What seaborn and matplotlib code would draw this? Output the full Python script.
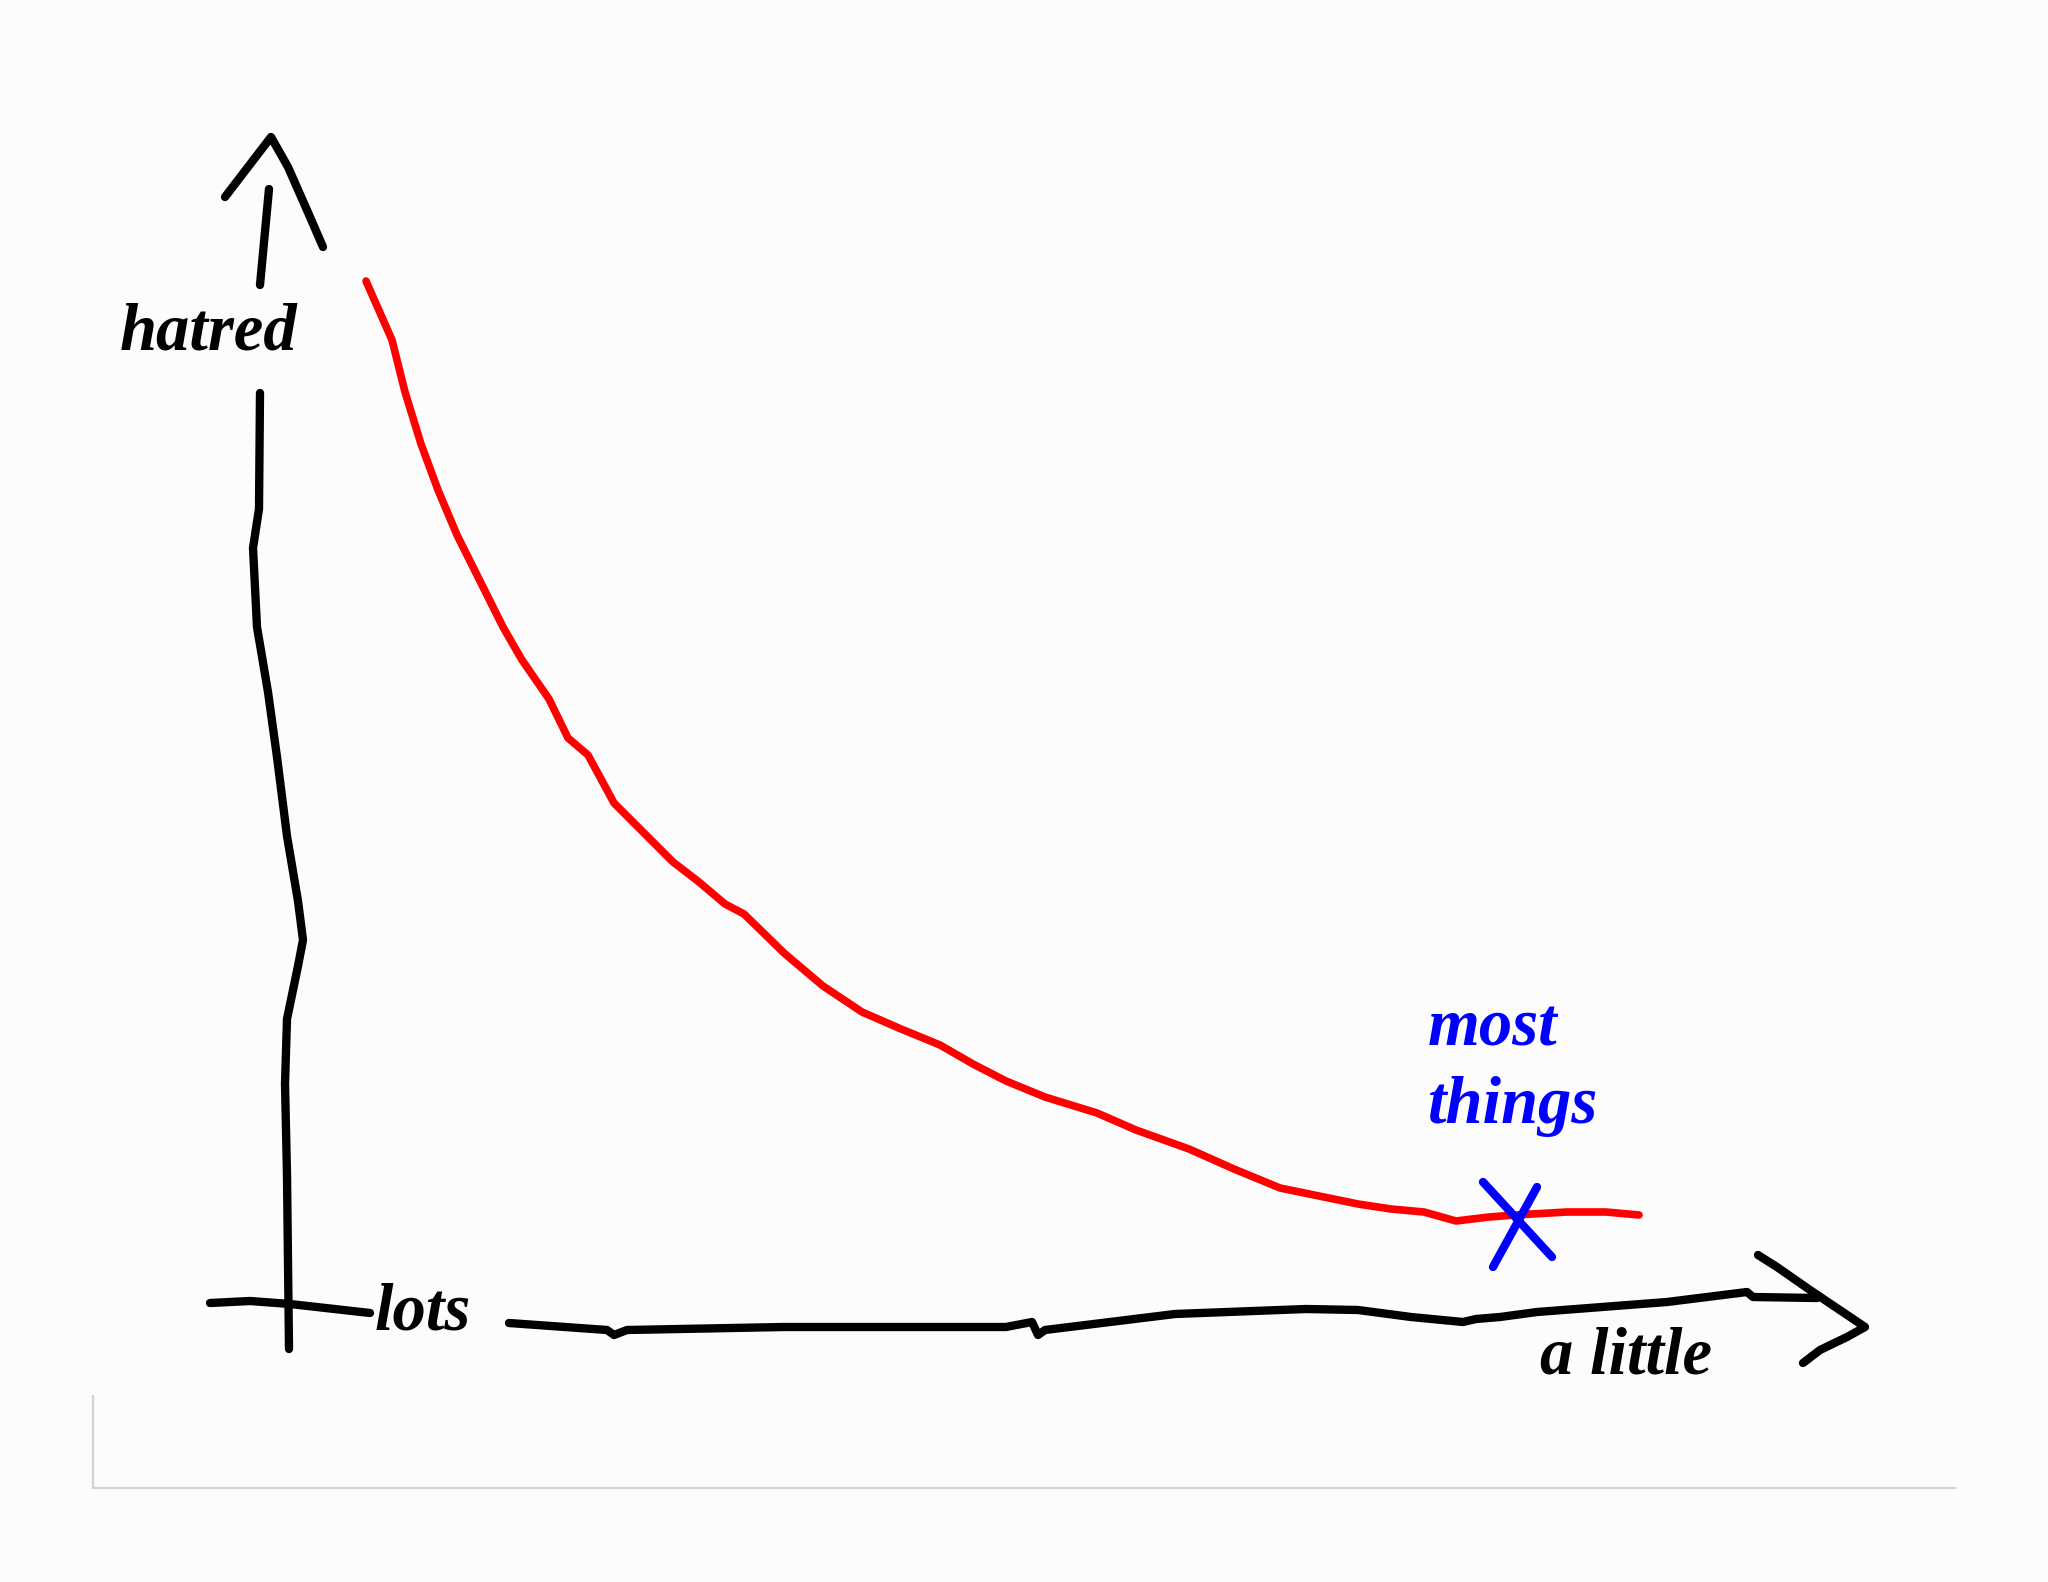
import matplotlib
matplotlib.use("Agg")
import matplotlib.pyplot as plt
import seaborn as sns
import pandas as pd

# ---- data (hand-drawn strokes, in picture pixel space) ----
curve_x = [366, 392, 405, 421, 438, 457, 477, 503, 522, 549, 568, 588, 614, 640, 673, 699, 725, 744,
           784, 823, 862, 901, 940, 973, 1006, 1045, 1097, 1136, 1189, 1234, 1280, 1319, 1358, 1391,
           1424, 1456, 1489, 1515, 1567, 1606, 1639]
curve_y = [281, 340, 392, 444, 490, 535, 575, 627, 660, 699, 738, 755, 803, 829, 862, 882, 904, 914,
           953, 986, 1012, 1029, 1045, 1064, 1081, 1097, 1113, 1130, 1149, 1169, 1188, 1196, 1204, 1209,
           1212, 1221, 1217, 1215, 1212, 1212, 1215]

yaxis_top_x = [269, 260]
yaxis_top_y = [189, 285]
yaxis_head_x = [225, 271, 288, 310, 323]
yaxis_head_y = [197, 137, 167, 217, 247]
yaxis_low_x = [260, 259, 253, 257, 268, 277, 287, 298, 303, 298, 287, 285, 287, 289]
yaxis_low_y = [393, 509, 548, 627, 692, 757, 836, 901, 940, 966, 1019, 1084, 1175, 1349]

xaxis_left_x = [210, 250, 290, 370]
xaxis_left_y = [1303, 1301, 1304, 1313]
xaxis_right_x = [509, 607, 614, 627, 784, 1006, 1032, 1038, 1045, 1175, 1306, 1358, 1411, 1463, 1476,
                 1500, 1537, 1667, 1747, 1753, 1817]
xaxis_right_y = [1323, 1330, 1335, 1330, 1327, 1327, 1322, 1335, 1330, 1314, 1309, 1310, 1317, 1322, 1319,
                 1317, 1312, 1302, 1292, 1297, 1298]
xaxis_head_x = [1758, 1777, 1810, 1865, 1847, 1820, 1803]
xaxis_head_y = [1255, 1267, 1290, 1327, 1337, 1350, 1363]

mark1_x = [1483, 1552]
mark1_y = [1182, 1257]
mark2_x = [1537, 1493]
mark2_y = [1187, 1267]

labels = ["hatred", "lots", "a little", "most", "things"]

sns.set_theme(style="white")
plt.rcParams["font.family"] = ["Liberation Serif", "DejaVu Serif"]

fig = plt.figure(figsize=(20.48, 15.82), dpi=100, facecolor="#fdfcfd")
ax = fig.add_axes([0, 0, 1, 1])
ax.set_facecolor("#fdfcfd")
ax.set_xlim(0, 2048)
ax.set_ylim(1582, 0)
ax.axis("off")

def stroke(xs, ys, color, lw):
    sns.lineplot(x=xs, y=ys, sort=False, estimator=None, color=color, linewidth=lw, ax=ax,
                 solid_capstyle="round", solid_joinstyle="round")

# frame of the embedded picture
stroke([93, 93, 1955], [1396, 1488, 1488], "#d2d2d2", 1.6)

for xs, ys in [(yaxis_top_x, yaxis_top_y), (yaxis_head_x, yaxis_head_y), (yaxis_low_x, yaxis_low_y),
               (xaxis_left_x, xaxis_left_y), (xaxis_right_x, xaxis_right_y), (xaxis_head_x, xaxis_head_y)]:
    stroke(xs, ys, "black", 6)

stroke(curve_x, curve_y, "#ff0000", 5.5)
stroke(mark1_x, mark1_y, "#0000ff", 6)
stroke(mark2_x, mark2_y, "#0000ff", 6)

tk = dict(fontsize=48, fontweight="bold", fontstyle="italic", ha="left", va="baseline")
ax.text(120, 350, labels[0], color="black", **tk)
ax.text(375, 1330, labels[1], color="black", **tk)
ax.text(1540, 1374, labels[2], color="black", **tk)
ax.text(1428, 1045, labels[3], color="#0000ff", **tk)
ax.text(1428, 1123, labels[4], color="#0000ff", **tk)

fig.savefig("out.png", dpi=100, facecolor=fig.get_facecolor())
